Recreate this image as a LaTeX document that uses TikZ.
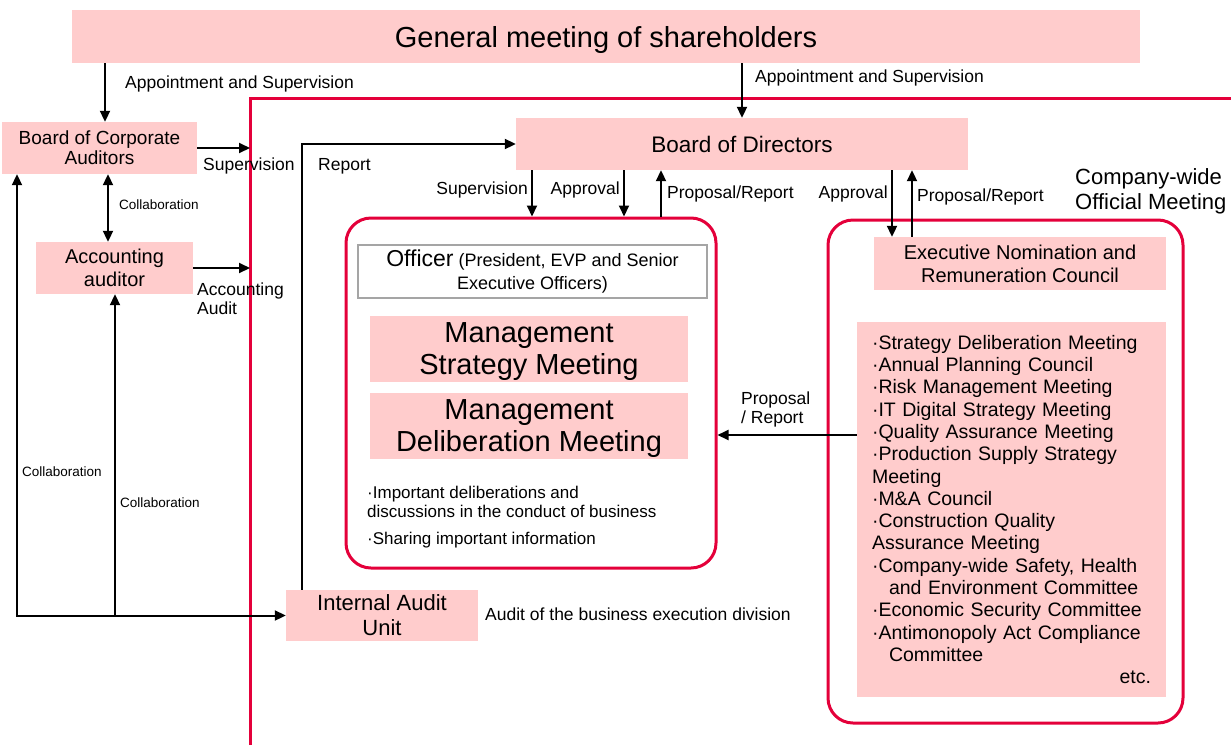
\documentclass[tikz,border=0pt]{standalone}
\usepackage{fontspec}
\setmainfont{Liberation Sans}
\usetikzlibrary{arrows.meta}
\definecolor{boxpink}{RGB}{255,204,204}
\definecolor{framered}{RGB}{228,0,58}
\definecolor{linegray}{RGB}{165,165,165}
\newcommand{\fsz}[2]{\fontsize{#1}{#2}\selectfont}
\tikzset{ pbox/.style = { rectangle % pink box
        , fill = boxpink
        , inner sep = 0pt
        , align = center
        }
        , rframe/.style = { rectangle % red rounded frame
        , draw = framered
        , line width = 3pt
        , rounded corners = 25pt
        }
        , lbl/.style = { inner sep = 0pt % free text
        , align = left
        , anchor = west
        , font = \fsz{17.5}{19}
        }
        }

\begin{document}
\begin{tikzpicture}[x=1pt, y=1pt,
        edge_style/.style={draw=black, line width=2pt, -{Triangle[length=11pt,width=10pt]}},
        twoway_style/.style={draw=black, line width=2pt, {Triangle[length=11pt,width=10pt]}-{Triangle[length=11pt,width=10pt]}},
        frame_style/.style={draw=framered, line width=3pt}]
        \useasboundingbox (0,0) rectangle (1231,-745);
        % company frame
        \coordinate (fr_bl) at (250,-745);
        \coordinate (fr_tr) at (1231,-98);
        \draw [frame_style] (fr_bl) |- (fr_tr);

        \node [pbox,minimum width=1068pt,minimum height=53pt,text depth=0pt,font=\fsz{29}{32}](gm) at (606,-36.5) {General meeting of shareholders};
        \node [pbox,minimum width=195pt,minimum height=52pt,font=\fsz{19}{20}](bca) at (99.5,-148) {Board of Corporate\\Auditors};
        \node [pbox,minimum width=157pt,minimum height=52pt,font=\fsz{20}{23}](aa) at (114.5,-268) {Accounting\\auditor};
        \node [pbox,minimum width=452pt,minimum height=52pt,font=\fsz{22.5}{25}](bod) at (742,-144) {Board of Directors};
        \node [pbox,minimum width=192pt,minimum height=51pt,font=\fsz{22}{25}](iau) at (382,-615.5) {Internal Audit\\Unit};

        % officer block
        \node [rframe,minimum width=370pt,minimum height=350pt](off) at (531,-393) {};
        \node [draw=linegray,line width=2pt,inner sep=0pt,align=center,minimum width=349pt,minimum height=53pt,font=\fsz{18}{23}](offt) at (532.5,-271.5) {{\fsz{23}{23}Officer} (President, EVP and Senior\\Executive Officers)};
        \node [pbox,minimum width=318pt,minimum height=66pt,text depth=0pt,font=\fsz{29}{32}](msm) at (529,-349) {Management\\Strategy Meeting};
        \node [pbox,minimum width=318pt,minimum height=66pt,text depth=0pt,font=\fsz{29}{32}](mdm) at (529,-426) {Management\\Deliberation Meeting};
        \node [lbl,anchor=north west,font=\fsz{17}{19}](offn) at (367,-486) {·Important deliberations and\\discussions in the conduct of business\\[8pt]·Sharing important information};

        % company-wide meetings
        \node [rframe,minimum width=355pt,minimum height=503pt](cwom) at (1005.5,-471.5) {};
        \node [lbl,font=\fsz{22}{25}](cwoml) at (1075,-191.5) {Company-wide\\Official Meeting};
        \node [pbox,minimum width=292pt,minimum height=53pt,font=\fsz{20}{23}](enc) at (1020,-263.5) {Executive Nomination and\\Remuneration Council};
        \node [pbox,align=left,text width=279pt,inner xsep=15pt,minimum height=375pt,font=\fsz{19.5}{22.3}](list) at (1011.5,-509.5) {·Strategy Deliberation Meeting\\
                ·Annual Planning Council\\
                ·Risk Management Meeting\\
                ·IT Digital Strategy Meeting\\
                ·Quality Assurance Meeting\\
                ·Production Supply Strategy\\
                Meeting\\
                ·M\&A Council\\
                ·Construction Quality\\
                Assurance Meeting\\
                ·Company-wide Safety, Health\\
                \hspace*{17pt}and Environment Committee\\
                ·Economic Security Committee\\
                ·Antimonopoly Act Compliance\\
                \hspace*{17pt}Committee\\
                \hskip 0pt plus 1fill etc.};

        % labels
        \node [lbl](l_as1) at (125,-84) {Appointment and Supervision};
        \node [lbl](l_as2) at (755,-78) {Appointment and Supervision};
        \node [lbl](l_sup1) at (203,-166) {Supervision};
        \node [lbl,font=\fsz{13.5}{15}](l_col1) at (119,-205) {Collaboration};
        \node [lbl](l_aud) at (197,-299) {Accounting\\Audit};
        \node [lbl](l_rep) at (318,-166) {Report};
        \node [lbl,anchor=east](l_sup2) at (528,-190) {Supervision};
        \node [lbl,anchor=east](l_app1) at (620,-190) {Approval};
        \node [lbl](l_pr1) at (667,-194) {Proposal/Report};
        \node [lbl,anchor=east](l_app2) at (888,-194) {Approval};
        \node [lbl](l_pr2) at (917,-197) {Proposal/Report};
        \node [lbl](l_pr3) at (741,-409.5) {Proposal\\/ Report};
        \node [lbl](l_iau) at (485,-614) {Audit of the business execution division};
        \node [lbl,font=\fsz{13.5}{15}](l_col2) at (22,-472) {Collaboration};
        \node [lbl,font=\fsz{13.5}{15}](l_col3) at (120,-503) {Collaboration};

        % connectors
        \draw [edge_style] ([xshift=5.5pt]bca.north |- gm.south) -- ([xshift=5.5pt]bca.north);
        \draw [edge_style] (gm.south -| bod.north) -- (bod.north);
        \draw [edge_style] (bca.east) -- (bca.east -| fr_bl);
        \draw [twoway_style] ([xshift=-6.5pt]aa.north) -- ([xshift=-6.5pt]aa.north |- bca.south);
        \draw [edge_style] (aa.east) -- (aa.east -| fr_bl);
        \draw [edge_style] ([xshift=16pt]iau.north west) |- (bod.west);
        \draw [edge_style] ([xshift=1pt]off.north |- bod.south) -- ([xshift=1pt]off.north);
        \draw [edge_style] ([xshift=93pt]off.north |- bod.south) -- ([xshift=93pt]off.north);
        \draw [edge_style] ([xshift=130pt]off.north) -- ([xshift=130pt]off.north |- bod.south);
        \draw [edge_style] ([xshift=-128pt]enc.north |- bod.south) -- ([xshift=-128pt]enc.north);
        \draw [edge_style] ([xshift=-108pt]enc.north) -- ([xshift=-108pt]enc.north |- bod.south);
        \coordinate (prop) at (0,-435);
        \draw [edge_style] (list.west |- prop) -- (off.east |- prop);
        \coordinate (cl1) at (17,0);
        \coordinate (cl2) at (115,0);
        \draw [twoway_style] (bca.south -| cl1) |- (iau.west);
        \draw [edge_style] (cl2 |- iau.west) -- (aa.south -| cl2);
\end{tikzpicture}
\end{document}
